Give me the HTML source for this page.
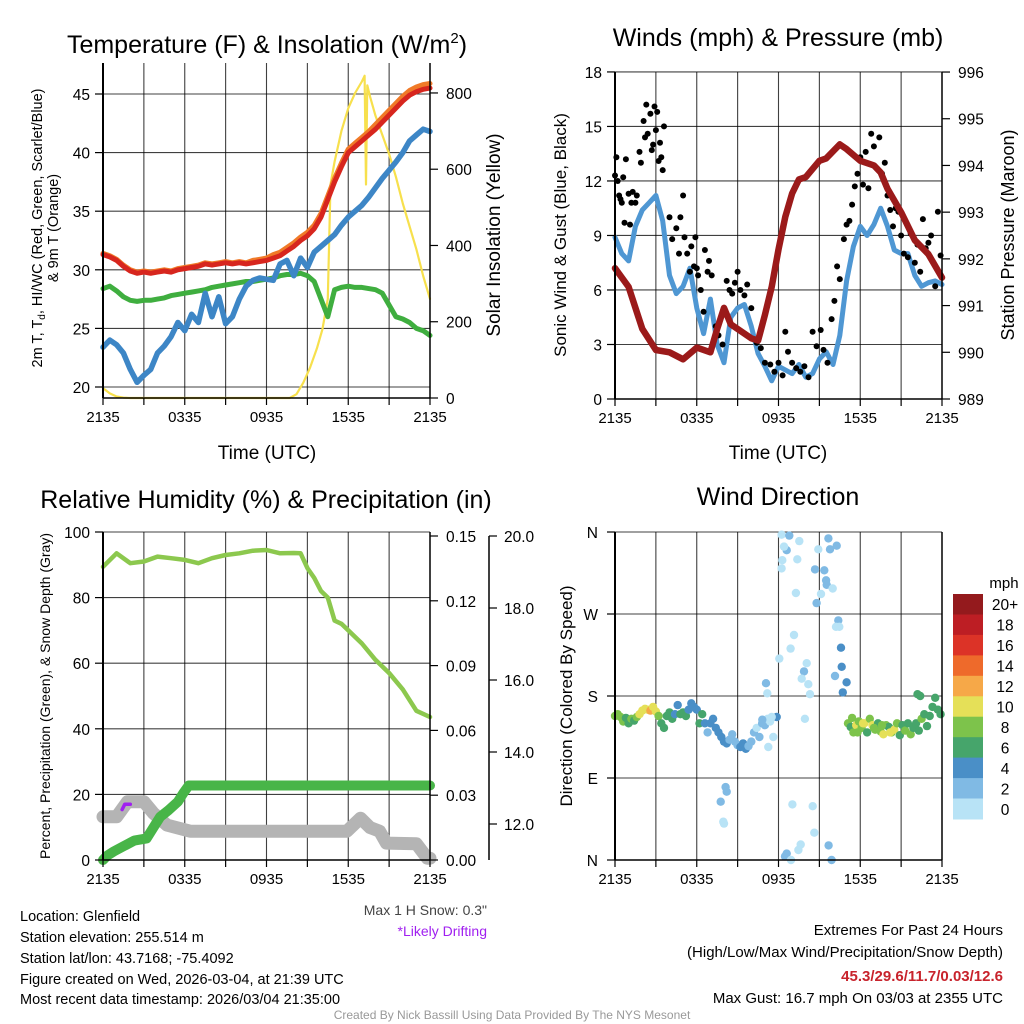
<!DOCTYPE html>
<html><head><meta charset="utf-8"><style>
html,body{margin:0;padding:0;background:#fff;}
svg{display:block;font-family:"Liberation Sans",Arial,sans-serif;}
</style></head><body>
<svg id="chart" width="1024" height="1024" viewBox="0 0 1024 1024" xmlns="http://www.w3.org/2000/svg">
<rect x="0" y="0" width="1024" height="1024" fill="#fff"/>
<g id="grid"></g>
<g id="series"></g>
<g id="axes"></g>

<text x="267" y="53" font-size="25" text-anchor="middle">Temperature (F) &amp; Insolation (W/m<tspan font-size="15" dy="-10">2</tspan><tspan dy="10">)</tspan></text>
<text x="778" y="46" font-size="25" text-anchor="middle">Winds (mph) &amp; Pressure (mb)</text>
<text x="266" y="508" font-size="25" text-anchor="middle">Relative Humidity (%) &amp; Precipitation (in)</text>
<text x="778" y="505" font-size="25" text-anchor="middle">Wind Direction</text>

<text x="267" y="459" font-size="19" text-anchor="middle">Time (UTC)</text>
<text x="778" y="459" font-size="19" text-anchor="middle">Time (UTC)</text>

<text transform="translate(42,228) rotate(-90)" font-size="14.5" text-anchor="middle">2m T, T<tspan font-size="10" dy="3">d</tspan><tspan dy="-3">, HI/WC (Red, Green, Scarlet/Blue)</tspan></text>
<text transform="translate(58,228) rotate(-90)" font-size="14.5" text-anchor="middle">&amp; 9m T (Orange)</text>
<text transform="translate(500,235) rotate(-90)" font-size="19" text-anchor="middle">Solar Insolation (Yellow)</text>
<text transform="translate(566,235) rotate(-90)" font-size="17" text-anchor="middle">Sonic Wind &amp; Gust (Blue, Black)</text>
<text transform="translate(1014,235) rotate(-90)" font-size="18" text-anchor="middle">Station Pressure (Maroon)</text>
<text transform="translate(50,696) rotate(-90)" font-size="14" text-anchor="middle">Percent, Precipitation (Green), &amp; Snow Depth (Gray)</text>
<text transform="translate(572,696) rotate(-90)" font-size="17" text-anchor="middle">Direction (Colored By Speed)</text>

<text x="487" y="915" font-size="14" text-anchor="end" fill="#444">Max 1 H Snow: 0.3"</text>
<text x="487" y="936" font-size="14" text-anchor="end" fill="#a020f0">*Likely Drifting</text>

<g font-size="14.5">
<text x="20" y="921">Location: Glenfield</text>
<text x="20" y="942">Station elevation: 255.514 m</text>
<text x="20" y="963">Station lat/lon: 43.7168; -75.4092</text>
<text x="20" y="984">Figure created on Wed, 2026-03-04, at 21:39 UTC</text>
<text x="20" y="1004">Most recent data timestamp: 2026/03/04 21:35:00</text>
</g>
<g font-size="15" text-anchor="end">
<text x="1003" y="935">Extremes For Past 24 Hours</text>
<text x="1003" y="957">(High/Low/Max Wind/Precipitation/Snow Depth)</text>
<text x="1003" y="981" font-weight="bold" fill="#c8232c">45.3/29.6/11.7/0.03/12.6</text>
<text x="1003" y="1003">Max Gust: 16.7 mph On 03/03 at 2355 UTC</text>
</g>
<text x="512" y="1019" font-size="12" text-anchor="middle" fill="#999">Created By Nick Bassill Using Data Provided By The NYS Mesonet</text>
</svg>
<script>
// ---------- DATA ----------
const timeLabels = ["2135","0335","0935","1535","2135"];
const tHalf = [0,0.5,1,1.5,2,2.5,3,3.5,4,4.5,5,5.5,6,6.5,7,7.5,8,8.5,9,9.5,10,10.5,11,11.5,12,12.5,13,13.5,14,14.5,15,15.5,16,16.5,17,17.5,18,18.5,19,19.5,20,20.5,21,21.5,22,22.5,23,23.5,24];
const tempRed = [31.3,31.1,30.8,30.3,29.9,29.7,29.8,29.7,29.8,29.9,29.8,30.0,30.1,30.2,30.3,30.5,30.4,30.5,30.6,30.5,30.6,30.5,30.6,30.7,30.8,31.0,31.2,31.6,32.0,32.5,32.9,33.5,34.5,36.0,37.5,38.8,40.0,40.5,41.0,41.5,42.0,42.6,43.2,43.8,44.4,44.9,45.2,45.4,45.5];
const temp9m = [31.4,31.2,30.9,30.4,30.0,29.8,29.9,29.8,29.9,30.0,29.9,30.1,30.2,30.3,30.4,30.6,30.5,30.6,30.7,30.6,30.7,30.6,30.8,30.9,31.0,31.3,31.5,31.9,32.3,32.8,33.2,33.8,34.8,36.3,37.8,39.1,40.3,40.8,41.3,41.8,42.4,43.0,43.6,44.2,44.8,45.3,45.6,45.8,45.9];
const wcGreen = [28.4,28.6,28.2,27.7,27.4,27.3,27.4,27.4,27.5,27.6,27.8,27.9,28.0,28.1,28.2,28.3,28.5,28.6,28.7,28.8,28.9,29.0,29.0,29.1,29.2,29.3,29.5,29.6,29.6,29.7,29.5,29.0,27.5,26.0,28.3,28.5,28.6,28.5,28.5,28.4,28.3,28.0,27.0,26.0,25.8,25.5,25.0,24.8,24.4];
const dewBlue = [23.4,24.0,23.6,22.9,21.5,20.4,21.0,21.5,22.9,23.5,24.3,25.5,24.8,26.2,25.5,28.0,26.0,27.7,25.4,26.0,27.5,28.6,29.1,29.3,29.2,29.1,30.5,30.8,29.5,31.0,30.2,31.5,32.0,32.5,33.0,33.8,34.5,35.0,35.5,36.2,37.0,37.8,38.5,39.2,40.0,41.0,41.5,42.0,41.8];
const solarT = [0,0.5,1,1.5,2,11,12,13,13.7,14.2,14.7,15.2,15.7,16.1,16.5,16.7,17,17.5,18,18.5,19,19.2,19.3,19.4,19.6,20,20.5,21,21.5,22,22.5,23,23.5,24];
const solarV = [26,12,4,1,0,0,0,0,0,10,40,80,130,180,260,560,620,700,760,800,830,845,560,820,790,740,690,640,580,510,450,390,320,260];

const windSpeed = [8.9,8.0,7.6,9.5,10.4,10.8,11.2,9.8,6.8,5.8,6.2,7.2,5.0,3.6,5.5,3.0,2.0,4.5,5.0,5.2,4.0,2.5,1.8,1.0,1.8,1.6,1.4,1.9,1.2,1.4,2.2,2.6,1.9,3.5,6.5,8.4,9.5,9.0,9.6,10.5,9.5,8.2,8.0,8.0,6.8,6.2,6.4,6.5,6.3];
const pressT = [0,1,2,3,4,5,6,7,7.5,8,8.5,9,10,10.5,11,11.5,12,12.5,13,13.5,14,15,15.5,16,16.5,17,18,19,19.5,20,21,22,23,24];
const pressV = [991.8,991.4,990.5,990.05,990.0,989.85,990.1,990.0,990.5,990.95,990.6,990.5,990.3,990.25,990.8,991.4,992.2,992.9,993.4,993.7,993.75,994.1,994.15,994.3,994.45,994.35,994.1,994.0,993.85,993.5,993.0,992.4,992.1,991.6];
const gustT = [0.0,0.1,0.2,0.3,0.4,0.5,0.6,0.7,0.8,1.0,1.1,1.2,1.3,1.5,1.6,1.8,1.9,2.1,2.2,2.3,2.4,2.6,2.7,2.8,2.9,3.0,3.1,3.2,3.3,3.4,3.5,3.6,4.0,4.2,4.5,4.7,4.8,5.0,5.1,5.3,5.5,5.6,5.8,5.9,6.0,6.1,6.3,6.5,6.6,6.8,6.9,7.1,7.4,7.6,7.9,8.2,8.4,8.6,8.8,9.0,9.2,9.5,9.7,10.0,10.4,10.7,11.0,11.4,11.7,12.0,12.3,12.5,12.7,13.0,13.3,13.6,13.9,14.2,14.5,14.8,15.1,15.3,15.6,15.9,16.1,16.3,16.5,16.8,17.0,17.2,17.4,17.6,17.8,18.0,18.2,18.4,18.6,18.8,19.0,19.2,19.4,19.6,19.8,20.0,20.2,20.4,20.6,20.8,21.0,21.2,21.5,21.7,22.0,22.2,22.4,22.6,22.8,23.0,23.2,23.5,23.7,23.9];
const gustV = [12.3,13.3,12.0,11.2,11.0,10.8,12.2,9.7,13.2,11.3,9.6,10.8,11.4,10.8,11.2,13.6,13.0,15.3,14.4,16.2,14.6,15.7,13.7,14.0,16.1,14.8,15.8,13.1,14.1,13.3,12.6,15.0,10.0,8.8,9.4,8.0,10.0,11.2,8.9,8.0,7.0,8.4,7.3,8.9,7.2,6.8,6.0,4.8,8.2,7.0,7.6,6.8,4.0,3.5,3.0,6.5,6.0,5.8,6.4,7.0,6.0,5.7,6.3,5.0,3.1,2.8,2.0,1.9,1.5,2.0,1.3,3.7,2.6,2.0,1.7,1.5,1.8,1.2,3.7,2.9,3.8,2.7,2.0,4.4,5.4,7.3,6.6,8.8,9.6,9.8,10.7,11.7,12.4,13.3,11.8,13.6,11.6,14.6,13.9,12.7,14.4,12.4,13.0,11.2,10.4,9.5,10.5,10.3,9.0,8.0,7.8,9.1,7.5,8.5,7.0,9.9,8.3,8.6,9.0,6.2,10.3,7.9];

const rhT = [0,1,2,3,4,5,6,7,8,9,10,11,12,13,14,14.5,15,15.5,16,16.5,17,17.5,18,19,20,21,22,23,24];
const rhV = [89.4,93.5,90.5,91,92.5,92,91.5,90.5,92,93,93.5,94.3,94.5,93.5,93.6,93.5,89,86,82,80,73,72,70,66,61,57,52,45.5,43.6];
const precipT = [0,0.3,0.8,1.4,2.3,3.2,3.7,4.2,4.8,5.5,5.9,6.3,24];
const precipV = [0,0.002,0.004,0.006,0.009,0.010,0.015,0.020,0.023,0.027,0.031,0.0345,0.0345];
const snowT = [0,1.0,1.8,3.0,3.7,4.7,6.4,17.9,18.9,19.6,20.3,20.8,23.0,23.8,24];
const snowV = [12.2,12.2,12.62,12.62,12.3,11.97,11.8,11.8,12.16,11.9,11.8,11.47,11.45,11.05,11.05];
const driftT = [1.4,1.6,2.0];
const driftV = [12.4,12.55,12.55];

const dirT = [0.0,0.2,0.4,0.6,0.8,1.0,1.2,1.4,1.6,1.8,2.0,2.2,2.4,2.6,2.8,3.0,3.2,3.4,3.6,3.8,4.0,4.2,4.4,4.6,4.8,5.0,5.2,5.4,5.6,5.8,6.0,6.2,6.4,6.6,6.8,7.0,7.2,7.4,7.6,7.8,8.0,8.2,8.4,8.6,8.8,9.0,9.2,9.4,9.6,9.8,10.0,10.2,10.4,10.6,10.8,11.0,11.2,
 12.23,12.79,13.53,12.6,12.4,13.38,12.28,12.23,13.28,15.66,16.27,15.78,14.92,14.68,15.36,15.49,15.54,15.98,15.12,14.8,16.39,16.46,16.22,13.14,12.89,12.06,16.59,16.64,14.07,13.87,13.7,14.19,14.31,11.08,11.18,16.15,17.0,16.72,11.87,11.5,11.38,10.81,13.94,11.62,11.25,
 8.12,8.2,7.76,7.95,8.0,13.02,14.51,14.63,13.63,13.46,12.6,12.48,12.92,15.68,15.9,
 17.1,17.3,17.5,17.7,17.9,18.1,18.3,18.5,18.7,18.9,19.1,19.3,19.5,19.7,19.9,20.1,20.3,20.5,20.7,20.9,21.1,21.3,21.5,21.7,21.9,22.1,22.3,22.5,22.7,22.9,23.1,23.3,23.5,23.7,23.9,22.2,22.4,17.4,17.8,18.2,19.0,19.6,20.2];
const dirDeg = [158,160,157,152,156,150,155,153,157,160,164,166,165,164,168,163,158,150,145,158,162,155,160,170,160,162,158,165,172,168,165,150,160,150,140,150,155,145,140,135,130,128,132,138,130,126,124,128,122,125,130,140,145,135,150,148,155,
 357,356,350,340,344,330,329,320,293,353,345,341,341,319,318,307,302,298,292,282,263,256,256,247,232,221,233,212,216,207,199,193,182,194,183,202,195,184,157,157,152,154,155,135,124,
 80,75,64,42,40,61,59,30,17,11,7,4,0,16,0,
 150,146,140,148,152,145,150,140,155,148,143,150,141,138,148,146,140,143,150,137,148,142,150,138,145,150,142,155,160,147,158,168,178,165,160,182,180,156,140,150,145,148,140];
const dirSpd = [8,8,8,8,7,6,8,7,9,10,10,10,10,12,10,10,8,6,6,7,6,6,4,4,7,6,6,4,4,4,4,6,6,4,2,4,4,4,4,4,4,4,2,2,2,2,4,4,4,2,2,2,0,2,2,2,0,
 0,2,0,2,0,0,0,0,0,2,2,2,0,2,2,2,2,0,0,2,2,0,0,0,0,0,4,4,0,2,0,0,0,2,0,2,4,4,4,0,0,2,0,0,0,
 2,2,2,0,0,0,0,0,0,0,2,2,0,2,2,
 8,6,8,10,8,8,10,6,8,10,8,6,8,10,8,6,8,10,8,6,6,8,6,8,6,6,6,8,6,6,6,6,6,6,6,6,6,8,8,10,8,8,10];
const speedBins = ["20+","18","16","14","12","10","8","6","4","2","0"];
const binColors = ["#941a1d","#bd1e24","#dc3327","#ee6a2b","#f6a848","#e5e058","#7dc34b","#46a56b","#4a8fc7","#80bae4","#b8e3f6"];

// ---------- SCALES ----------
const NS = "http://www.w3.org/2000/svg";
const x1 = h => 103 + h * 327 / 24;
const x2 = h => 615 + h * 327 / 24;
const yT = v => 387 - (v - 20) * 58.6 / 5;
const yS = v => 398 - v * 0.3813;
const yW = v => 399 - v * 18.17;
const yP = p => 399 - (p - 989) * 46.71;
const yR = v => 860 - v * 3.28;
const yPr = v => 860 - v * 2160;
const ySn = v => 824 - (v - 12) * 36;
const yD = d => 860 - d * 0.9111;

const G = document.getElementById("grid"), S = document.getElementById("series"), A = document.getElementById("axes");
function mk(tag, attrs, parent){ const e=document.createElementNS(NS,tag); for(const k in attrs) e.setAttribute(k,attrs[k]); parent.appendChild(e); return e; }
function txt(x,y,s,size,anchor,parent){ const e=mk("text",{x:x,y:y,"font-size":size,"text-anchor":anchor},parent); e.textContent=s; return e; }
function poly(ts,vs,xf,yf){ return ts.map((t,i)=>xf(t).toFixed(1)+","+yf(vs[i]).toFixed(1)).join(" "); }

// ---------- FRAMES / GRIDS ----------
const panels = [
 {name:"temperature", x0:103,x1:430,y0:63,y1:398, hgrid:[20,25,30,35,40,45].map(yT)},
 {name:"winds", x0:615,x1:942,y0:72,y1:399, hgrid:[0,3,6,9,12,15,18].map(yW)},
 {name:"humidity", x0:103,x1:430,y0:532,y1:860, hgrid:[0,20,40,60,80,100].map(yR)},
 {name:"direction", x0:615,x1:942,y0:532,y1:860, hgrid:[0,90,180,270,360].map(yD)}
];
panels.forEach(p=>{
  for(let k=1;k<8;k++){
    const gx = p.x0 + k*(p.x1-p.x0)/8;
    const l = mk("line",{x1:gx,x2:gx,y1:p.y0,y2:p.y1,stroke:"#000","stroke-width":1.1,"stroke-opacity":0.75},G);
    
    
  }
  p.hgrid.forEach(gy=>{
    const l = mk("line",{x1:p.x0,x2:p.x1,y1:gy,y2:gy,stroke:"#000","stroke-width":1.1,"stroke-opacity":0.75},G);
    
    
  });
  const la = mk("line",{x1:p.x0,x2:p.x0,y1:p.y0,y2:p.y1,stroke:"#000","stroke-width":2},A);
  
  
  const ra = mk("line",{x1:p.x1,x2:p.x1,y1:p.y0,y2:p.y1,stroke:"#000","stroke-width":1.5},A);
  
  
  const ba = mk("line",{x1:p.x0,x2:p.x1,y1:p.y1,y2:p.y1,stroke:"#000","stroke-width":1.5},A);
  
  
  for(let k=0;k<=8;k++){
    const gx = p.x0 + k*(p.x1-p.x0)/8;
    const tk = mk("line",{x1:gx,x2:gx,y1:p.y1,y2:p.y1+7,stroke:"#000","stroke-width":1.2},A);
    
    
  }
  timeLabels.forEach((s,i)=>{
    const t = txt(p.x0+i*(p.x1-p.x0)/4, p.y1+24, s, 15, "middle", A);
    
    
  });
});

function leftTicks(vals, yf, labels, x0, name, gap){
  vals.forEach((v,i)=>{
    const tk = mk("line",{x1:x0-8,x2:x0,y1:yf(v),y2:yf(v),stroke:"#000","stroke-width":1.2},A);
    
    
    const t = txt(x0-(gap||13), yf(v)+6, labels[i], 15.5, "end", A);
    
    
  });
}
function rightTicks(vals, yf, labels, x0, name, gap){
  vals.forEach((v,i)=>{
    const tk = mk("line",{x1:x0,x2:x0+8,y1:yf(v),y2:yf(v),stroke:"#000","stroke-width":1.2},A);
    
    
    const t = txt(x0+(gap||16), yf(v)+6, labels[i], 15.5, "start", A);
    
    
  });
}
const tempTicks=[20,25,30,35,40,45], solarTicks=[0,200,400,600,800];
const windTicks=[0,3,6,9,12,15,18], pressTicks=[989,990,991,992,993,994,995,996];
const rhTicks=[0,20,40,60,80,100], precipTicks=[0,0.03,0.06,0.09,0.12,0.15], snowTicks=[12,14,16,18,20];
const dirTicks=[0,90,180,270,360], dirLabels=["N","E","S","W","N"];
leftTicks(tempTicks,yT,tempTicks.map(String),103,"temperature-y-axis");
rightTicks(solarTicks,yS,solarTicks.map(String),430,"insolation-y-axis");
leftTicks(windTicks,yW,windTicks.map(String),615,"wind-y-axis");
rightTicks(pressTicks,yP,pressTicks.map(String),942,"pressure-y-axis");
leftTicks(rhTicks,yR,rhTicks.map(String),103,"humidity-y-axis");
rightTicks(precipTicks,yPr,precipTicks.map(v=>v.toFixed(2)),430,"precip-y-axis");
leftTicks(dirTicks,yD,dirLabels,615,"direction-y-axis",17);
const snowAxis = mk("line",{x1:489,x2:489,y1:536,y2:860,stroke:"#000","stroke-width":1.5},A);


rightTicks(snowTicks,ySn,snowTicks.map(v=>v.toFixed(1)),489,"snow-depth-y-axis",15);

// ---------- SERIES ----------
function line(ts,vs,xf,yf,color,w,name){
  const e = mk("polyline",{points:poly(ts,vs,xf,yf),fill:"none",stroke:color,"stroke-width":w,"stroke-linejoin":"round","stroke-linecap":"round"},S);
  
  
  return e;
}
line(solarT,solarV,x1,yS,"#f7e04d",2.2,"solar-insolation-line");
line(tHalf,wcGreen,x1,yT,"#3fae3f",5,"wind-chill-line");
line(tHalf,dewBlue,x1,yT,"#3d86c6",5.5,"dewpoint-line");
line(tHalf,temp9m,x1,yT,"#f07a28",5,"temperature-9m-line");
line(tHalf,tempRed,x1,yT,"#d7261e",5,"temperature-2m-line");

line(tHalf,windSpeed,x2,yW,"#4f97d3",5,"sonic-wind-line");
gustT.forEach((t,i)=>{
  const c = mk("circle",{cx:x2(t).toFixed(1),cy:yW(gustV[i]).toFixed(1),r:3,fill:"#000"},S);
  
  
});
line(pressT,pressV,x2,yP,"#9b1a1a",6.5,"pressure-line");

line(snowT,snowV,x1,ySn,"#b4b4b4",13,"snow-depth-line");
line(driftT,driftV,x1,ySn,"#a020f0",3.5,"likely-drifting-line");
line(precipT,precipV,x1,yPr,"#48b548",10,"precipitation-line");
line(rhT,rhV,x1,yR,"#8cc84e",4.5,"relative-humidity-line");

function binIndex(s){ const b = Math.min(10, Math.floor(s/2)); return 10 - b; }
dirT.forEach((t,i)=>{
  const c = mk("circle",{cx:x2(t).toFixed(1),cy:yD(dirDeg[i]).toFixed(1),r:4.2,fill:binColors[binIndex(dirSpd[i])]},S);
  
  
});

// ---------- COLORBAR ----------
const cbTop=594, cbH=225/11;
const cbt = txt(1004,588,"mph",15,"middle",A);


speedBins.forEach((s,i)=>{
  const r = mk("rect",{x:953,y:(cbTop+i*cbH).toFixed(1),width:30,height:(cbH+0.5).toFixed(1),fill:binColors[i]},A);
  
  
  const t = txt(1005,(cbTop+i*cbH+cbH/2+6).toFixed(1),s,15.5,"middle",A);
  
  
});
</script>
</body></html>
